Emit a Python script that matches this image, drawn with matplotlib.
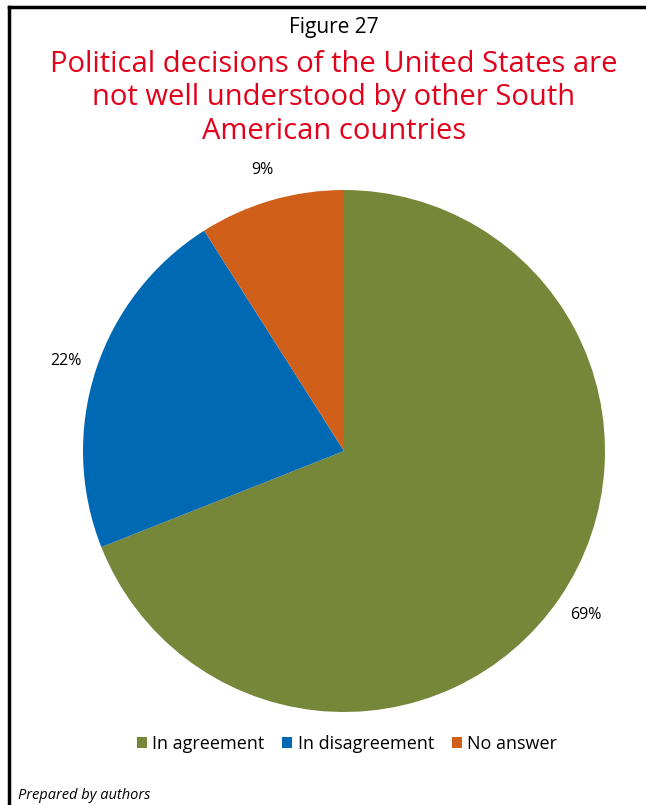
import matplotlib.pyplot as plt
from matplotlib.lines import Line2D

plt.rcParams['font.family'] = ['Open Sans', 'DejaVu Sans']

labels = ['In agreement', 'In disagreement', 'No answer']
values = [69, 22, 9]
colors = ['#77873A', '#0069B4', '#D05F1A']

fig = plt.figure(figsize=(6.46, 8.05), dpi=100)

# marco: linea superior e izquierda
fig.add_artist(Line2D([9 / 646, 1], [1 - 7 / 805, 1 - 7 / 805], color='black', lw=2.5))
fig.add_artist(Line2D([9 / 646, 9 / 646], [0, 1 - 7 / 805], color='black', lw=2.5))

fig.text(334 / 646, 1 - 27 / 805, 'Figure 27', ha='center', va='center', fontsize=15, color='black')
fig.text(334 / 646, 1 - 98 / 805,
         'Political decisions of the United States are\nnot well understood by other South\nAmerican countries',
         ha='center', va='center', fontsize=21, color='#E2001A', linespacing=1.22)

ax = fig.add_axes([(344 - 261) / 646, 1 - (451 + 261) / 805, 522 / 646, 522 / 805])
wedges, texts, autotexts = ax.pie(values, colors=colors, startangle=90, counterclock=False,
                                  autopct='%d%%', pctdistance=1.12,
                                  textprops={'fontsize': 11.5, 'color': 'black'})
ax.set_xlim(-1, 1)
ax.set_ylim(-1, 1)
ax.set_aspect('equal')

fig.legend(wedges, labels, loc='center', bbox_to_anchor=(347 / 646, 1 - 744 / 805),
           ncol=3, frameon=False, fontsize=13, handlelength=0.55, handleheight=0.55,
           handletextpad=0.3, columnspacing=1.0)

fig.text(18 / 646, 1 - 795 / 805, 'Prepared by authors', ha='left', va='center',
         fontsize=10.5, style='italic')

fig.savefig('out.png', dpi=100)
